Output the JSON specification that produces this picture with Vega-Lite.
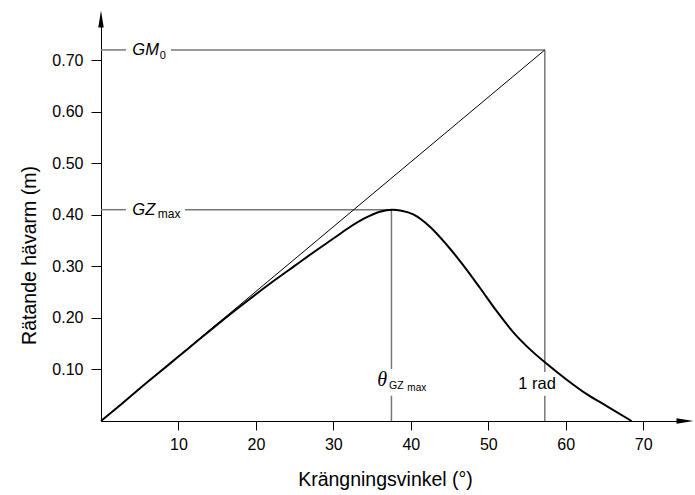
{
  "$schema": "https://vega.github.io/schema/vega-lite/v6.json",
  "width": 584,
  "height": 402,
  "autosize": {"type": "none"},
  "padding": {"left": 101, "top": 19, "right": 10, "bottom": 74},
  "background": "white",
  "config": {
    "view": {"stroke": null},
    "font": "Liberation Sans",
    "axis": {
      "grid": false,
      "domainColor": "#000000",
      "domainWidth": 1,
      "tickColor": "#000000",
      "tickWidth": 1,
      "labelFont": "Liberation Sans",
      "labelFontSize": 16,
      "labelColor": "#000000",
      "titleFont": "Liberation Sans",
      "titleFontSize": 19.5,
      "titleFontWeight": "normal",
      "titleColor": "#000000"
    }
  },
  "encoding": {
    "x": {
      "field": "x",
      "type": "quantitative",
      "scale": {"domain": [0, 75.4], "nice": false, "zero": false},
      "axis": {
        "values": [10, 20, 30, 40, 50, 60, 70],
        "title": "Krängningsvinkel (°)",
        "tickSize": 9,
        "labelPadding": 6,
        "titleX": 284,
        "titleY": 64,
        "titleAlign": "center",
        "titleBaseline": "alphabetic",
        "labelFlush": false
      }
    },
    "y": {
      "field": "y",
      "type": "quantitative",
      "scale": {"domain": [0, 0.78], "nice": false, "zero": false},
      "axis": {
        "values": [0.1, 0.2, 0.3, 0.4, 0.5, 0.6, 0.7],
        "format": ".2f",
        "title": "Rätande hävarm (m)",
        "tickSize": 10,
        "labelPadding": 8,
        "titleX": -66,
        "titleY": 236,
        "titleAngle": -90,
        "titleAlign": "center",
        "titleBaseline": "alphabetic",
        "labelFlush": false
      }
    }
  },
  "layer": [
    {
      "data": {"values": [
        {"x": 0, "y": 0.72, "x2": 3.23, "y2": 0.72},
        {"x": 9.04, "y": 0.72, "x2": 57.3, "y2": 0.72},
        {"x": 57.3, "y": 0, "x2": 57.3, "y2": 0.049},
        {"x": 57.3, "y": 0.095, "x2": 57.3, "y2": 0.72},
        {"x": 0, "y": 0.41, "x2": 3.23, "y2": 0.41},
        {"x": 10.85, "y": 0.41, "x2": 37.5, "y2": 0.41},
        {"x": 37.5, "y": 0, "x2": 37.5, "y2": 0.049},
        {"x": 37.5, "y": 0.101, "x2": 37.5, "y2": 0.41}
      ]},
      "mark": {"type": "rule", "color": "#777777", "strokeWidth": 1.5},
      "encoding": {
        "x2": {"field": "x2"},
        "y2": {"field": "y2"}
      }
    },
    {
      "data": {"values": [{"x": 0, "y": 0, "x2": 57.3, "y2": 0.72}]},
      "mark": {"type": "rule", "color": "#000000", "strokeWidth": 1},
      "encoding": {
        "x2": {"field": "x2"},
        "y2": {"field": "y2"}
      }
    },
    {
      "data": {"values": [
        {"x": 0, "y": 0},
        {"x": 2.5, "y": 0.031},
        {"x": 5, "y": 0.063},
        {"x": 7.5, "y": 0.094},
        {"x": 10, "y": 0.125},
        {"x": 12.5, "y": 0.156},
        {"x": 15, "y": 0.187},
        {"x": 17.5, "y": 0.217},
        {"x": 20, "y": 0.246},
        {"x": 22.5, "y": 0.274},
        {"x": 25, "y": 0.301},
        {"x": 27.5, "y": 0.328},
        {"x": 30, "y": 0.354},
        {"x": 32, "y": 0.375},
        {"x": 34, "y": 0.393},
        {"x": 36, "y": 0.406},
        {"x": 37.6, "y": 0.41},
        {"x": 38.8, "y": 0.408},
        {"x": 40.32, "y": 0.401},
        {"x": 42.47, "y": 0.377},
        {"x": 44.63, "y": 0.342},
        {"x": 46.78, "y": 0.302},
        {"x": 48.94, "y": 0.258},
        {"x": 51.09, "y": 0.213},
        {"x": 53.24, "y": 0.172},
        {"x": 55.39, "y": 0.139},
        {"x": 57.55, "y": 0.111},
        {"x": 60.13, "y": 0.08},
        {"x": 62.71, "y": 0.052},
        {"x": 65.29, "y": 0.029},
        {"x": 68.5, "y": 0}
      ]},
      "mark": {"type": "line", "color": "#000000", "strokeWidth": 2, "interpolate": "monotone"},
      "encoding": {}
    },
    {
      "data": {"values": [{"x": 0, "y": 0.78}]},
      "mark": {"type": "point", "shape": "M0,-1L0.32,1L-0.32,1Z", "size": 289, "filled": true, "color": "#000000", "opacity": 1},
      "encoding": {}
    },
    {
      "data": {"values": [{"x": 75.4, "y": 0}]},
      "mark": {"type": "point", "shape": "M1,0L-1,0.32L-1,-0.32Z", "size": 289, "filled": true, "color": "#000000", "opacity": 1},
      "encoding": {}
    },
    {
      "data": {"values": [{"x": 4.04, "y": 0.72, "label": "GM"}, {"x": 4.04, "y": 0.41, "label": "GZ"}]},
      "mark": {"type": "text", "align": "left", "baseline": "alphabetic", "font": "Liberation Sans", "fontStyle": "italic", "fontSize": 16.5, "color": "#000000", "dy": 5.5},
      "encoding": {"text": {"field": "label"}}
    },
    {
      "data": {"values": [{"x": 4.04, "y": 0.72, "label": "0"}]},
      "mark": {"type": "text", "align": "left", "baseline": "alphabetic", "font": "Liberation Sans", "fontSize": 11, "color": "#000000", "dx": 27.5, "dy": 9.1},
      "encoding": {"text": {"field": "label"}}
    },
    {
      "data": {"values": [{"x": 4.04, "y": 0.41, "label": "max"}]},
      "mark": {"type": "text", "align": "left", "baseline": "alphabetic", "font": "Liberation Sans", "fontSize": 12, "color": "#000000", "dx": 25.5, "dy": 8.3},
      "encoding": {"text": {"field": "label"}}
    },
    {
      "data": {"values": [{"x": 37.5, "y": 0.07, "label": "θ"}]},
      "mark": {"type": "text", "align": "center", "baseline": "alphabetic", "font": "Liberation Serif", "fontStyle": "italic", "fontSize": 20, "color": "#000000", "dx": -9.4, "dy": 0.8},
      "encoding": {"text": {"field": "label"}}
    },
    {
      "data": {"values": [{"x": 37.5, "y": 0.07, "label": "GZ"}]},
      "mark": {"type": "text", "align": "left", "baseline": "alphabetic", "font": "Liberation Sans", "fontSize": 10.5, "color": "#000000", "dx": -2.4, "dy": 3.8},
      "encoding": {"text": {"field": "label"}}
    },
    {
      "data": {"values": [{"x": 37.5, "y": 0.07, "label": "max"}]},
      "mark": {"type": "text", "align": "left", "baseline": "alphabetic", "font": "Liberation Sans", "fontSize": 10, "color": "#000000", "dx": 15.9, "dy": 5.8},
      "encoding": {"text": {"field": "label"}}
    },
    {
      "data": {"values": [{"x": 57.3, "y": 0.07, "label": "1 rad"}]},
      "mark": {"type": "text", "align": "center", "baseline": "alphabetic", "font": "Liberation Sans", "fontSize": 16.5, "color": "#000000", "dx": -7.8, "dy": 3.8},
      "encoding": {"text": {"field": "label"}}
    }
  ]
}
